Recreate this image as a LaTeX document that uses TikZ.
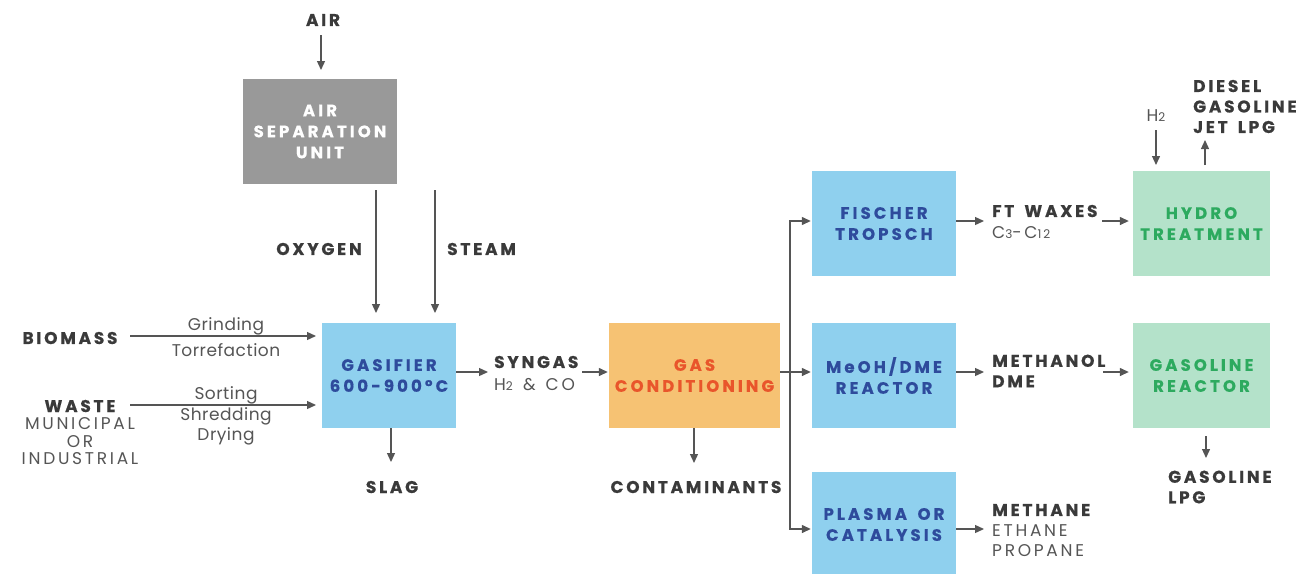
\documentclass[tikz,border=0pt]{standalone}
\usepackage{fontspec}
\setmainfont{Poppins}
\newfontfamily\bfont[LetterSpace=16,WordSpace=1.6,BoldFeatures={FakeBold=0.5}]{Poppins}
\newfontfamily\xfont[LetterSpace=19,WordSpace=1.6,BoldFeatures={FakeBold=0.5}]{Poppins}
\newfontfamily\lcfont[LetterSpace=16,WordSpace=1.4]{Poppins}
\newfontfamily\lfont[LetterSpace=3]{Poppins}
\usetikzlibrary{arrows.meta,calc}
\definecolor{txt}{HTML}{3A3A3A}
\definecolor{gtxt}{HTML}{555555}
\definecolor{linec}{HTML}{555555}
\definecolor{asuc}{HTML}{999999}
\definecolor{bluec}{HTML}{8FD0EE}
\definecolor{bluet}{HTML}{2E4B9C}
\definecolor{orangec}{HTML}{F6C273}
\definecolor{oranget}{HTML}{E9552B}
\definecolor{greenc}{HTML}{B4E2CA}
\definecolor{greent}{HTML}{2DAA5F}
\newcommand{\sbs}[1]{{\fontsize{12}{12}\selectfont #1}}
\begin{document}
\begin{tikzpicture}[x=1pt,y=-1pt,
  box/.style={rectangle, inner sep=0pt, align=center, font=\xfont\bfseries\fontsize{16.5}{21}\selectfont},
  lbl/.style={text=txt, inner sep=0pt, align=left, font=\bfont\bfseries\fontsize{17}{20.5}\selectfont},
  thin/.style={text=gtxt, inner sep=0pt, align=center, font=\lfont\fontsize{17}{20}\selectfont},
  thinc/.style={text=gtxt, inner sep=0pt, align=center, font=\lcfont\fontsize{17}{20.5}\selectfont},
  arr/.style={draw=linec, line width=1.3pt, -{Triangle[width=8pt,length=9pt]}},
  plain/.style={draw=linec, line width=1.3pt}]
\useasboundingbox (0,0) rectangle (1297,573);

% boxes
\node[box, fill=asuc, text=white, minimum width=154, minimum height=105] (asu) at (320,131.5) {AIR\\SEPARATION\\UNIT};
\node[box, fill=bluec, text=bluet, minimum width=134, minimum height=105] (gas) at (389,375.5) {GASIFIER\\600-900ºC};
\node[box, fill=orangec, text=oranget, minimum width=171, minimum height=105] (gc) at (694.5,375.5) {GAS\\CONDITIONING};
\node[box, fill=bluec, text=bluet, minimum width=144, minimum height=105] (ft) at (884,223.5) {FISCHER\\TROPSCH};
\node[box, fill=bluec, text=bluet, minimum width=144, minimum height=105] (meoh) at (884,375.5) {MeOH/DME\\REACTOR};
\node[box, fill=bluec, text=bluet, minimum width=144, minimum height=105] (pl) at (884,524.5) {PLASMA OR\\CATALYSIS};
\node[box, fill=greenc, text=greent, minimum width=137, minimum height=105] (hy) at (1201.5,223.5) {HYDRO\\TREATMENT};
\node[box, fill=greenc, text=greent, minimum width=137, minimum height=105] (gr) at (1201.5,375.5) {GASOLINE\\REACTOR};

% labels
\node[lbl] (air) at (323,20) {AIR};
\node[lbl, anchor=east] (oxy) at (362,249) {OXYGEN};
\node[lbl, anchor=west] (steam) at (447,249) {STEAM};
\node[lbl] (bio) at (70,338) {BIOMASS};
\node[lbl] (waste) at (80,406) {WASTE};
\node[thinc, font=\lcfont\fontsize{17}{17.5}\selectfont] (muni) at (80,441.5) {MUNICIPAL\\OR\\INDUSTRIAL};
\node[thin] (grind) at (226,326) {Grinding};
\node[thin] (torr) at (226,350) {Torrefaction};
\node[thin] (sort) at (226,395) {Sorting};
\node[thin] (shred) at (226,426.5) {Shredding\\Drying};
\node[lbl] (slag) at (392,487) {SLAG};
\node[lbl, anchor=west] (syngas) at (494,362) {SYNGAS};
\node[thinc, anchor=west] (h2co) at (494,385) {H\sbs{2} \& CO};
\node[lbl] (cont) at (696,487) {CONTAMINANTS};
\node[lbl, anchor=west] (ftw) at (992,211) {FT WAXES};
\node[thinc, anchor=west] (c312) at (992,233) {C\sbs{3}-C\sbs{12}};
\node[thinc] (h2) at (1156,116) {H\sbs{2}};
\node[lbl, anchor=west] (diesel) at (1193,106.5) {DIESEL\\GASOLINE\\JET LPG};
\node[lbl, anchor=west] (meth) at (992,371) {METHANOL\\DME};
\node[lbl, anchor=west] (gaslpg) at (1168,487) {GASOLINE\\LPG};
\node[lbl, anchor=west] (methane) at (992,510) {METHANE};
\node[thinc, anchor=west, align=left] (ethane) at (992,540.5) {ETHANE\\PROPANE};

% coordinates
\coordinate (airA) at (321,35);
\coordinate (airB) at (321,70);
\coordinate (oxA) at (376,190);
\coordinate (oxB) at (376,313);
\coordinate (stA) at (435,190);
\coordinate (stB) at (435,313);
\coordinate (bioA) at (130,336);
\coordinate (bioB) at (316,336);
\coordinate (waA) at (130,405);
\coordinate (waB) at (316,405);
\coordinate (slA) at (391,428);
\coordinate (slB) at (391,462);
\coordinate (sgB) at (488,372);
\coordinate (sgC) at (582,372);
\coordinate (ctB) at (694,463);
\coordinate (split) at (790,372);
\coordinate (yft) at (0,221);
\coordinate (ypl) at (0,529);
\coordinate (ftB) at (984,221);
\coordinate (ftC) at (1102,221);
\coordinate (meB) at (984,372);
\coordinate (meC) at (1103,372);
\coordinate (plB) at (984,529);
\coordinate (h2A) at (1156,130);
\coordinate (h2B) at (1156,165);
\coordinate (upA) at (1205,165);
\coordinate (upB) at (1205,140);
\coordinate (grA) at (1206,436);
\coordinate (grB) at (1206,458);

% connectors
\draw[arr] (airA) -- (airB);
\draw[arr] (oxA) -- (oxB);
\draw[arr] (stA) -- (stB);
\draw[arr] (bioA) -- (bioB);
\draw[arr] (waA) -- (waB);
\draw[arr] (slA) -- (slB);
\draw[arr] (gas.east |- sgB) -- (sgB);
\draw[arr] (sgC) -- ([xshift=-1pt]gc.west |- sgC);
\draw[arr] (gc.south -| ctB) -- (ctB);
\draw[arr] (gc.east |- split) -- ([xshift=-1pt]meoh.west |- split);
\draw[arr] (split) |- ([xshift=-1pt]ft.west |- yft);
\draw[arr] (split) |- ([xshift=-1pt]pl.west |- ypl);
\draw[arr] (ft.east |- yft) -- (ftB);
\draw[arr] (ftC) -- ([xshift=-4pt]hy.west |- ftC);
\draw[arr] (meoh.east |- meB) -- (meB);
\draw[arr] (meC) -- ([xshift=-4pt]gr.west |- meC);
\draw[arr] (pl.east |- plB) -- (plB);
\draw[arr] (h2A) -- (h2B);
\draw[arr] (upA) -- (upB);
\draw[arr] (grA) -- (grB);
\end{tikzpicture}
\end{document}
